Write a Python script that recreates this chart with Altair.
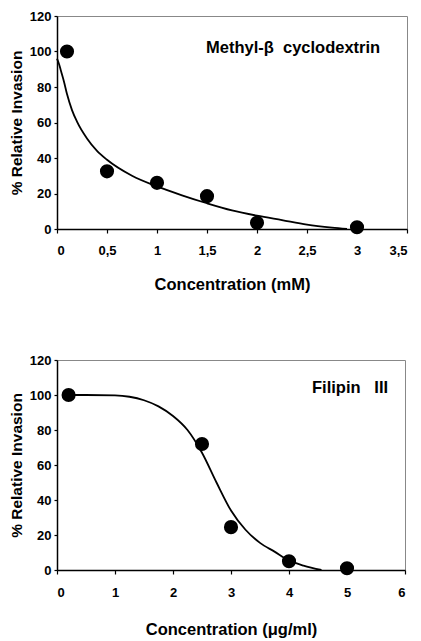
import altair as alt
import pandas as pd

FONT = "Liberation Sans"

# ---- Top panel: Methyl-beta cyclodextrin ----
mbcd_conc = [0.1, 0.5, 1.0, 1.5, 2.0, 3.0]
mbcd_inv = [100, 32.5, 26, 18.5, 3.5, 1]
mbcd_fit_x = [0, 0.02, 0.04, 0.07, 0.1, 0.15, 0.2, 0.3, 0.4, 0.5, 0.75, 1.0, 1.25, 1.5, 1.75, 2.0, 2.25, 2.5, 2.75, 2.9]
mbcd_fit_y = [96, 93, 89, 83, 76, 67, 60.5, 51, 44, 39, 30, 24, 19, 14.5, 10.5, 7.5, 5, 2.5, 0.8, 0]
mbcd_ticks = [0, 0.5, 1, 1.5, 2, 2.5, 3, 3.5]

# ---- Bottom panel: Filipin III ----
fil_conc = [0.2, 2.5, 3.0, 4.0, 5.0]
fil_inv = [100, 72, 24.5, 5, 1]
fil_fit_x = [0.2, 0.5, 1.0, 1.25, 1.5, 1.75, 2.0, 2.25, 2.5, 2.75, 3.0, 3.25, 3.5, 3.75, 4.0, 4.25, 4.56]
fil_fit_y = [100, 100, 99.8, 99, 97, 93.5, 88, 80, 67, 50, 34, 23, 15.5, 10.5, 5.5, 2.5, 0]
fil_ticks = [0, 1, 2, 3, 4, 5, 6]

y_ticks = [0, 20, 40, 60, 80, 100, 120]
labels = ["Methyl-\u03b2\u00a0\u00a0cyclodextrin", "Filipin\u00a0\u00a0\u00a0III"]
x_titles = ["Concentration (mM)", "Concentration (\u03bcg/ml)"]
y_title = "% Relative Invasion"


def panel(cx, cy, fx, fy, xticks, xtitle, label, width, height, lx, ly, lpad, tpad):
    pts = pd.DataFrame({"c": cx, "v": cy})
    fit = pd.DataFrame({"c": fx, "v": fy})
    xenc = alt.X(
        "c:Q",
        scale=alt.Scale(domain=[xticks[0], xticks[-1]], nice=False, zero=False),
        axis=alt.Axis(
            values=xticks,
            title=xtitle,
            labelExpr="replace(toString(datum.value), '.', ',')",
            tickSize=4,
            labelPadding=lpad,
            titlePadding=tpad,
            titleFontSize=16.5,
        ),
    )
    yenc = alt.Y(
        "v:Q",
        scale=alt.Scale(domain=[0, 120], nice=False),
        axis=alt.Axis(values=y_ticks, title=y_title, tickSize=3, labelPadding=3, titlePadding=5,
                      titleFontSize=15.5),
    )
    line = alt.Chart(fit).mark_line(color="black", strokeWidth=1.8, interpolate="monotone").encode(
        x=xenc, y=yenc
    )
    dots = alt.Chart(pts).mark_circle(color="black", opacity=1, size=200).encode(x=xenc, y=yenc)
    txt = alt.Chart(pd.DataFrame({"t": [label]})).mark_text(
        align="left", baseline="middle", fontSize=16.5, fontWeight="bold", font=FONT, color="black"
    ).encode(x=alt.value(lx), y=alt.value(ly), text="t:N")
    return alt.layer(line, dots, txt).properties(width=width, height=height)


top = panel(mbcd_conc, mbcd_inv, mbcd_fit_x, mbcd_fit_y, mbcd_ticks, x_titles[0], labels[0],
            350, 213, 149, 32, 11, 19)
bottom = panel(fil_conc, fil_inv, fil_fit_x, fil_fit_y, fil_ticks, x_titles[1], labels[1],
               348, 210, 255, 28, 12, 22)

chart = (
    alt.vconcat(top, bottom, spacing=60)
    .properties(padding={"left": 0, "top": 1, "right": 2, "bottom": 0})
    .configure_view(stroke="#888888", strokeWidth=1)
    .configure_axis(
        grid=False,
        domainColor="black",
        domainWidth=1.5,
        tickColor="black",
        tickWidth=1.2,
        labelColor="black",
        titleColor="black",
        labelFont=FONT,
        titleFont=FONT,
        labelFontSize=13,
        labelFontWeight="bold",
        titleFontWeight="bold",
    )
)

chart.save("out.html", embed_options={"renderer": "svg", "actions": False})
